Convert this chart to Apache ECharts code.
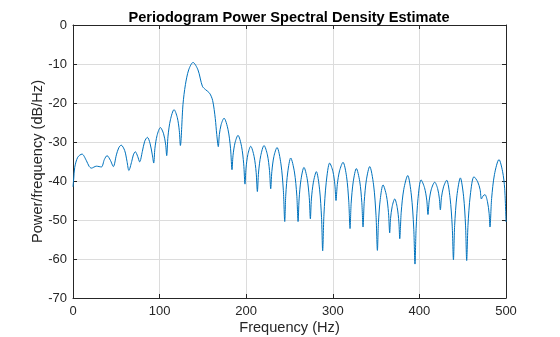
<!DOCTYPE html>
<html>
<head>
<meta charset="utf-8">
<script src="https://cdn.jsdelivr.net/npm/echarts@6/dist/echarts.min.js"></script>
<style>
html,body{margin:0;padding:0;background:#fff;}
#chart{width:560px;height:337px;}
</style>
</head>
<body>
<div id="chart"></div>
<script>
const titleText = 'Periodogram Power Spectral Density Estimate';
const xLabel = 'Frequency (Hz)';
const yLabel = 'Power/frequency (dB/Hz)';
const xTicks = [0, 100, 200, 300, 400, 500];
const yTicks = [-70, -60, -50, -40, -30, -20, -10, 0];

const freqHz = [
0,0.8,2,5.5,10.4,15.5,18.5,21.2,27,32.8,36.2,39.3,43.2,46.6,50.1,52.8,55.6,59.7,62.4,64.5,
67.8,69.7,72,74.7,77,80.1,82.8,85.9,88.9,91.6,93.2,94.6,97.1,100.9,104.6,106.9,108.2,109.7,112.5,116.7,
120.4,122.7,124,127,129.8,133.6,138.6,144.3,149.4,153.2,157.8,161.3,164.3,166,167.8,169.0,171.1,174.4,179.0,181.9,
183.6,184.8,187.1,190.5,194.6,197.1,198.6,199.8,201.9,205.2,209.1,211.5,212.9,214.3,216.8,220.6,224.5,226.9,228.3,229.6,
232.0,235.6,240.1,242.9,244.5,245.7,248.0,251.4,255.7,258.4,259.9,261.1,263.3,266.7,270.4,272.8,274.1,275.3,277.6,281,
284.7,287.0,288.3,289.8,292.4,296.4,300.1,302.4,303.7,305.2,307.8,311.8,315.9,318.4,319.9,321.2,323.6,327.2,331.1,333.5,
334.9,336.3,338.8,342.6,347.1,349.9,351.5,352.7,354.8,358,361.9,364.3,365.7,366.7,368.6,371.5,374.4,376.3,377.3,379.0,
381.9,386.5,390.7,393.4,394.9,396.2,398.4,401.9,405.9,408.5,409.9,411.3,413.8,417.7,421.0,423.0,424.2,425.5,427.9,431.5,
435.4,437.9,439.3,440.7,443.3,447.3,451.0,453.3,454.6,456.1,458.8,463,467.3,470.1,471.6,473.6,475.7,478.6,480.5,481.5,
483.4,486.7,491.9,496,498.5,500
];
const psdDb = [
-41.5,-39.5,-36.5,-33.9,-33.1,-34.8,-36.2,-36.7,-36.2,-36.4,-34.5,-33.5,-34.7,-36.3,-33.3,-31.5,-30.8,-32.2,-35,-37.3,
-35,-33.3,-32.5,-33.7,-35.1,-32.4,-29.8,-28.8,-30.3,-33.3,-35.4,-31.6,-28.3,-26.3,-27.9,-30.5,-33.5,-28.5,-24.3,-21.7,
-23.7,-27.0,-30.9,-20.4,-15.3,-11.5,-9.6,-11.5,-15.7,-16.6,-17.5,-19.4,-24,-28.1,-31.2,-28.1,-25.5,-23.9,-26.8,-31.6,
-37.1,-33.4,-30.2,-28.3,-31.1,-35.6,-40.8,-36.7,-33.2,-31.1,-33.7,-37.8,-42.7,-37.7,-33.5,-30.9,-33.3,-37.3,-42,-37.6,
-33.7,-31.4,-35.6,-42.4,-50.4,-43.6,-37.7,-34.1,-37.7,-43.6,-50.4,-44.6,-39.6,-36.5,-39.4,-44.2,-49.7,-44.6,-40.3,-37.6,
-42.1,-49.4,-57.9,-48.5,-40.4,-35.4,-37.5,-41.0,-45,-40.9,-37.4,-35.2,-38.9,-45.1,-52.2,-45.7,-40.2,-36.8,-40.1,-45.5,
-51.8,-45.3,-39.7,-36.3,-41.0,-48.8,-57.8,-50.7,-44.7,-41,-43.7,-48.1,-53.3,-49.6,-46.5,-44.6,-46.8,-50.5,-54.8,-48.0,
-42.2,-38.6,-43.6,-51.8,-61.3,-52.2,-44.5,-39.7,-41.7,-44.9,-48.6,-45.1,-42.1,-40.3,-41.9,-44.4,-47.4,-44.2,-41.5,-39.8,
-44.3,-51.6,-60.2,-51.4,-43.8,-39.2,-43.9,-51.5,-60.4,-51.4,-43.6,-38.9,-40.2,-42.2,-44.6,-43.8,-43.5,-45.3,-48.3,-51.8,
-44.5,-38.3,-34.5,-37.5,-42,-50.5
];

const pairs = freqHz.map((f, i) => [f, psdDb[i]]);
const axisColor = '#262626';
const fontFam = '"Liberation Sans", Arial, Helvetica, sans-serif';

const chart = echarts.init(document.getElementById('chart'), null, {renderer: 'canvas'});
const baseX = {
  type: 'value', min: xTicks[0], max: xTicks[xTicks.length - 1], interval: 100,
  axisLine: {show: true, onZero: false, lineStyle: {color: axisColor, width: 1}},
  axisTick: {show: true, inside: true, length: 4, lineStyle: {color: axisColor}},
  splitLine: {show: false},
};
const baseY = {
  type: 'value', min: yTicks[0], max: yTicks[yTicks.length - 1], interval: 10,
  axisLine: {show: true, onZero: false, lineStyle: {color: axisColor, width: 1}},
  axisTick: {show: true, inside: true, length: 4, lineStyle: {color: axisColor}},
  splitLine: {show: false},
};
chart.setOption({
  animation: false,
  backgroundColor: '#ffffff',
  title: {
    text: titleText, left: 284, top: 5, textAlign: 'center',
    textStyle: {fontFamily: fontFam, fontSize: 14.6, fontWeight: 'bold', color: '#000'}
  },
  grid: {left: 73, right: 54, top: 25, bottom: 39, containLabel: false, outerBoundsMode: 'none'},
  xAxis: [
    Object.assign({}, baseX, {
      position: 'bottom',
      axisLabel: {color: axisColor, fontSize: 13, fontFamily: fontFam, margin: 7},
      splitLine: {show: true, lineStyle: {color: '#dcdcdc', width: 1}},
      name: xLabel, nameLocation: 'middle', nameGap: 22, nameMoveOverlap: false,
      nameTextStyle: {color: axisColor, fontSize: 14.6, fontFamily: fontFam}
    }),
    Object.assign({}, baseX, {position: 'top', axisLabel: {show: false}})
  ],
  yAxis: [
    Object.assign({}, baseY, {
      position: 'left',
      axisLabel: {color: axisColor, fontSize: 13, fontFamily: fontFam, margin: 6},
      splitLine: {show: true, lineStyle: {color: '#dcdcdc', width: 1}},
      name: yLabel, nameLocation: 'middle', nameGap: 28, nameMoveOverlap: false,
      nameTextStyle: {color: axisColor, fontSize: 14.6, fontFamily: fontFam}
    }),
    Object.assign({}, baseY, {position: 'right', axisLabel: {show: false}})
  ],
  series: [{
    type: 'line', xAxisIndex: 0, yAxisIndex: 0,
    data: pairs, showSymbol: false, symbol: 'none',
    smooth: 0.3,
    lineStyle: {color: '#0072BD', width: 1},
    clip: true
  }]
});
</script>
</body>
</html>
